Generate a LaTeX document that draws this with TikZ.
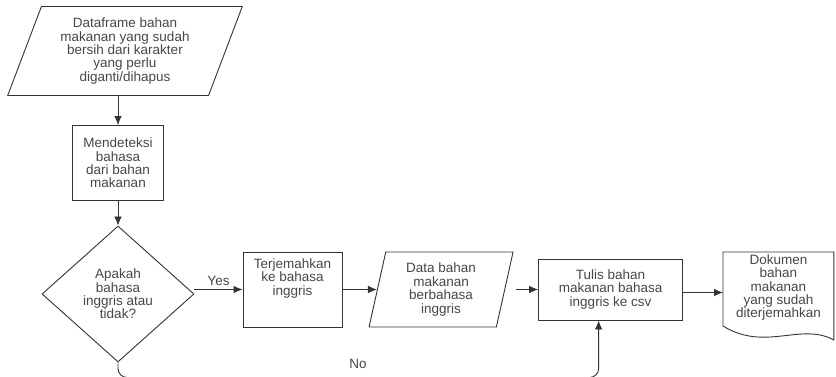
\documentclass[tikz,border=0pt]{standalone}
\usepackage{fontspec}
\setmainfont{Liberation Sans}
\usepackage{tikz}
\usetikzlibrary{shapes.geometric, arrows.meta, positioning, calc}
\definecolor{garis}{HTML}{333333}
\definecolor{teks}{HTML}{474747}
\tikzstyle{block} = [draw=garis, fill=white, rectangle, align=center, inner sep=0pt]
\tikzstyle{dataio} = [draw=garis, fill=white, trapezium, trapezium stretches=true, align=center, inner sep=0pt]
\tikzstyle{decision} = [draw=garis, fill=white, diamond, align=center, inner sep=0pt]

\begin{document}
\begin{tikzpicture}[x=1pt, y=1pt, auto, node distance=27pt, >={Latex[length=9pt,width=7.5pt]}, line width=0.9pt,
    every node/.style={text=teks, font=\fontsize{13.5}{13.4}\selectfont}]
    \useasboundingbox (0,0) rectangle (836,-377);
    % kolom kiri
    \node [dataio, trapezium left angle=68.5, trapezium right angle=111.5,
        minimum width=235pt, minimum height=89pt] (dataframe) at (125,-51)
        {Dataframe bahan\\makanan yang sudah\\bersih dari karakter\\yang perlu\\diganti/dihapus};
    \node [block, minimum width=91pt, minimum height=75pt] (deteksi) at (118,-163)
        {Mendeteksi\\bahasa\\dari bahan\\makanan};
    \node [decision, minimum width=152pt, minimum height=136pt] (cek) at (118,-294)
        {Apakah\\bahasa\\inggris atau\\tidak?};
    % baris kanan
    \node [block, minimum width=99pt, minimum height=75pt] (terjemah) at (292.5,-289.5)
        {Terjemahkan\\ke bahasa\\inggris\\[12pt]};
    \node [dataio, trapezium left angle=78.7, trapezium right angle=101.3,
        minimum width=144pt, minimum height=75pt, right=34.5pt of terjemah] (hasil)
        {Data bahan\\makanan\\berbahasa\\inggris};
    \node [block, minimum width=144pt, minimum height=61pt, right=33pt of hasil] (tulis)
        {Tulis bahan\\makanan bahasa\\inggris ke csv};
    \node [rectangle, minimum width=110pt, minimum height=74pt, inner sep=0pt, anchor=north west]
        (dokumen) at (723,-252) {};
    \draw [draw=garis, fill=white] (dokumen.north west) -- (dokumen.north east) -- ++(0,-88)
        .. controls +(-33,18) and +(42,-26) .. ($(dokumen.north west)+(0,-74)$) -- cycle;
    \node [anchor=north, align=center, inner sep=0pt] (doktext) at ($(dokumen.north)+(0,-2)$)
        {Dokumen\\bahan\\makanan\\yang sudah\\diterjemahkan};
    \coordinate (belok) at (358,-377.5);
    % panah
    \draw [->, draw=garis] (deteksi.north |- dataframe.south) -- (deteksi);
    \draw [->, draw=garis] (deteksi) -- (cek);
    \draw [->, draw=garis] (cek.east |- terjemah) -- node {Yes} (terjemah);
    \draw [->, draw=garis] (terjemah) -- (hasil);
    \draw [->, draw=garis, shorten <=11pt] (hasil) -- (tulis);
    \draw [->, draw=garis] ([yshift=-3pt]tulis.east) -- ([yshift=-3pt]tulis.east -| dokumen.west);
    \draw [->, draw=garis, rounded corners=9pt] (cek.south) |- node [pos=1, above=5pt] {No} (belok) -| ([xshift=-12pt]tulis.south);
\end{tikzpicture}
\end{document}
